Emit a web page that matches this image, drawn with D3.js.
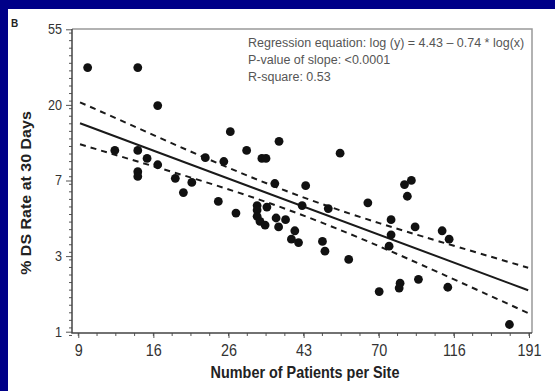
<!DOCTYPE html>
<html>
<head>
<meta charset="utf-8">
<script src="https://cdn.jsdelivr.net/npm/d3@7"></script>
<style>
  html, body { margin: 0; padding: 0; background: #000088; overflow: hidden; }
  svg { display: block; }
</style>
</head>
<body>
<div id="chart"></div>
<script>
// one entry per site: number of patients (x) and % DS rate at 30 days (y)
const patients = [10.1, 14.1, 16.1, 12.1, 14.1, 15.0, 16.1, 14.1, 14.1, 18.1,
  20.2, 19.1, 22.1, 25.0, 24.1, 26.1, 27.1, 29.1, 32.2, 33.1,
  36.1, 35.1, 31.2, 31.2, 31.2, 31.8, 32.9, 33.3, 35.4, 37.7,
  36.0, 40.1, 39.2, 41.1, 54.2, 43.1, 42.1, 50.1, 65.2, 48.2,
  49.0, 57.4, 70.3, 83.2, 87.1, 84.8, 76.1, 89.3, 106.9, 112.0,
  76.1, 75.1, 80.8, 80.3, 91.3, 111.0, 167.3];
const dsRate = [32.9, 32.9, 19.9, 11.0, 11.0, 9.9, 9.1, 8.3, 7.8, 7.6,
  7.2, 6.3, 10.0, 9.5, 5.6, 14.1, 4.8, 11.0, 9.9, 9.9,
  12.4, 7.1, 5.3, 5.0, 4.6, 4.3, 4.1, 5.2, 4.5, 4.4,
  4.0, 3.8, 3.4, 3.25, 10.6, 6.9, 5.3, 5.1, 5.5, 3.3,
  2.9, 2.6, 1.7, 7.0, 7.4, 6.0, 4.4, 4.0, 3.8, 3.4,
  3.6, 3.1, 1.9, 1.78, 2.0, 1.8, 1.1];

// axis ticks sit at equal steps of log units, labels are rounded
const xTickValues = [9.49, 15.64, 25.79, 42.52, 70.11, 115.58, 190.57];
const xTickLabels = ["9", "16", "26", "43", "70", "116", "191"];
const yTickValues = [1, 2.718, 7.389, 20.09, 54.6];
const yTickLabels = ["1", "3", "7", "20", "55"];

// fitted line and 95% band
const fitX = [9.6, 189.5];
const fitY = [15.75, 1.73];
const bandX = [9.6, 14.31, 21.34, 31.81, 47.43, 70.72, 105.46, 189.5];
const bandUpper = [20.79, 14.6, 10.27, 7.37, 5.46, 4.19, 3.29, 2.33];
const bandLower = [11.93, 9.41, 7.4, 5.72, 4.27, 3.08, 2.17, 1.28];

const notes = [
  "Regression equation: log (y) = 4.43 \u2013 0.74 * log(x)",
  "P-value of slope: <0.0001",
  "R-square: 0.53"
];

const W = 555, H = 391;
const frame = { l: 72, r: 532, t: 29, b: 333 };

const svg = d3.select("#chart").append("svg")
  .attr("width", W)
  .attr("height", H)
  .attr("font-family", "Liberation Sans, Arial, sans-serif");

// white panel inside the blue border
svg.append("rect")
  .attr("x", 8).attr("y", 9)
  .attr("width", W - 8).attr("height", H - 9)
  .attr("fill", "#ffffff");

const x = d3.scaleLog()
  .domain([xTickValues[0], xTickValues[xTickValues.length - 1]])
  .range([78.3, 529]);
const y = d3.scaleLog()
  .domain([yTickValues[0], yTickValues[yTickValues.length - 1]])
  .range([331.7, 29.3]);

// panel letter
svg.append("text")
  .attr("x", 11).attr("y", 27)
  .attr("font-size", 10).attr("font-weight", "bold")
  .attr("fill", "#222")
  .text("B");

// minor ticks (decoration of the log axes)
const lnX = x.domain().map(Math.log);
const lnY = y.domain().map(Math.log);
const minorX = d3.range(Math.ceil((Math.log(9.0)) / 0.125) * 0.125, Math.log(196), 0.125).map(Math.exp);
const minorY = d3.range(-0.05, lnY[1] + 0.001, 0.1).map(Math.exp);

const ticks = svg.append("g").attr("stroke", "#555").attr("stroke-width", 1);
ticks.selectAll(".mx").data(minorX).join("line")
  .attr("x1", d => x(d)).attr("x2", d => x(d))
  .attr("y1", frame.b).attr("y2", frame.b + 3);
ticks.selectAll(".my").data(minorY).join("line")
  .attr("y1", d => y(d)).attr("y2", d => y(d))
  .attr("x1", frame.l).attr("x2", frame.l - 3);

// axes
const ax = svg.append("g")
  .attr("transform", `translate(0,${frame.b})`)
  .call(d3.axisBottom(x).tickValues(xTickValues)
    .tickFormat((d, i) => xTickLabels[i]).tickSizeOuter(0).tickSize(5).tickPadding(7));
ax.select(".domain").remove();
ax.selectAll(".tick line").attr("stroke", "#555");
ax.selectAll(".tick text")
  .attr("font-size", 16).attr("fill", "#333")
  .attr("transform", "scale(0.9,1)");

const ay = svg.append("g")
  .attr("transform", `translate(${frame.l},0)`)
  .call(d3.axisLeft(y).tickValues(yTickValues)
    .tickFormat((d, i) => yTickLabels[i]).tickSizeOuter(0).tickSize(6).tickPadding(5));
ay.select(".domain").remove();
ay.selectAll(".tick line").attr("stroke", "#555");
ay.selectAll(".tick text")
  .attr("font-size", 14).attr("fill", "#333")
  .attr("transform", "scale(0.9,1)");

// frame: grey top/right, dark left/bottom
svg.append("path")
  .attr("d", `M${frame.l},${frame.t}H${frame.r}V${frame.b}`)
  .attr("fill", "none").attr("stroke", "#999").attr("stroke-width", 1.5);
svg.append("path")
  .attr("d", `M${frame.l},${frame.t}V${frame.b}H${frame.r}`)
  .attr("fill", "none").attr("stroke", "#444").attr("stroke-width", 1.5);

// regression line and confidence band
const line = d3.line().x(d => x(d[0])).y(d => y(d[1]));
const bandLine = d3.line().curve(d3.curveNatural).x(d => x(d[0])).y(d => y(d[1]));

svg.append("path")
  .attr("d", line(d3.zip(fitX, fitY)))
  .attr("fill", "none").attr("stroke", "#1a1a1a").attr("stroke-width", 2);

[bandUpper, bandLower].forEach(b => {
  svg.append("path")
    .attr("d", bandLine(d3.zip(bandX, b)))
    .attr("fill", "none").attr("stroke", "#1a1a1a").attr("stroke-width", 2)
    .attr("stroke-dasharray", "6,5");
});

// sites
svg.append("g").selectAll("circle")
  .data(d3.zip(patients, dsRate))
  .join("circle")
  .attr("cx", d => x(d[0]))
  .attr("cy", d => y(d[1]))
  .attr("r", 4.4)
  .attr("fill", "#111");

// regression notes
svg.append("g").selectAll("text")
  .data(notes)
  .join("text")
  .attr("x", 248)
  .attr("y", (d, i) => 47 + i * 17)
  .attr("font-size", 12.5)
  .attr("fill", "#555")
  .text(d => d);

// axis titles
svg.append("text")
  .attr("transform", "translate(305,378) scale(0.9,1)")
  .attr("text-anchor", "middle")
  .attr("font-size", 16).attr("font-weight", "bold").attr("fill", "#222")
  .text("Number of Patients per Site");

svg.append("text")
  .attr("transform", "translate(31,193) scale(0.9,1) rotate(-90)")
  .attr("text-anchor", "middle")
  .attr("font-size", 16).attr("font-weight", "bold").attr("fill", "#222")
  .text("% DS Rate at 30 Days");
</script>
</body>
</html>
